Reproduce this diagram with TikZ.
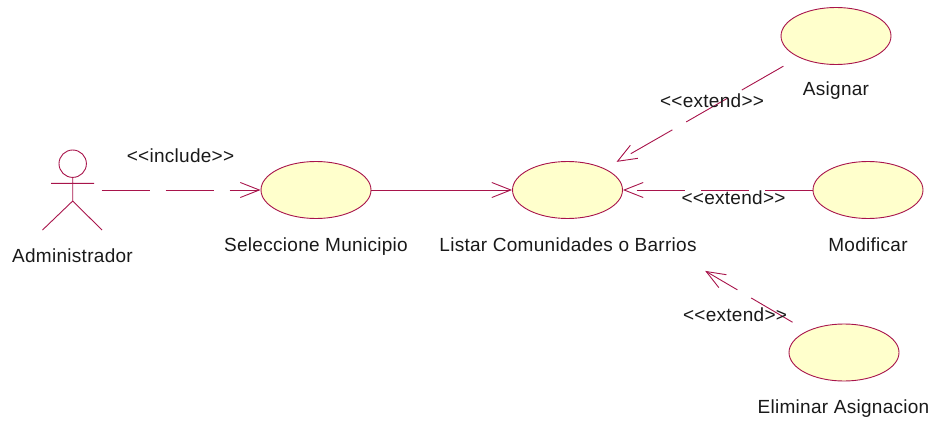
\documentclass[tikz,border=0pt]{standalone}
\usepackage{fontspec}
\setmainfont[LetterSpace=1.5]{Liberation Sans}
\usetikzlibrary{arrows.meta,shapes.geometric}
\definecolor{umlline}{RGB}{168,20,75}
\definecolor{umlfill}{RGB}{255,255,204}
\tikzset{
    usecase/.style={ellipse, draw=umlline, fill=umlfill, line width=0.9pt, inner sep=0pt, minimum width=110pt, minimum height=57pt},
    rel/.style={draw=umlline, line width=0.9pt, -{Straight Barb[length=19pt,width=15pt,line width=0.9pt]}},
    relextend/.style={rel, dash pattern=on 48pt off 16pt},
    txt/.style={anchor=base, inner sep=0pt, text=black!90, font=\fontsize{19}{21}\selectfont}
}
\begin{document}
\begin{tikzpicture}[x=1pt,y=-1pt]
    \useasboundingbox (0,0) rectangle (941,422);

    % actor
    \node[minimum width=59pt, minimum height=80pt, inner sep=0pt] (admin) at (72,190) {};
    \draw[umlline, line width=0.9pt]
    (72.7,163.7) circle (13.7pt)
    (72.7,177.4) -- (72.7,201) -- (42.5,230)
    (72.7,201) -- (102,230)
    (51,183.3) -- (94,183.3);

    % casos de uso
    \node[usecase] (municipio) at (316,190) {};
    \node[usecase] (listar) at (567.5,190) {};
    \node[usecase] (asignar) at (836,36) {};
    \node[usecase] (modificar) at (868,190) {};
    \node[usecase] (eliminar) at (844,352.5) {};

    % relaciones
    \draw[relextend] (admin) -- (municipio);
    \draw[rel] (municipio) -- (listar);
    \draw[relextend, shorten <=17.6pt, shorten >=13.5pt] (asignar) -- (listar);
    \draw[relextend] (modificar) -- (listar);
    \draw[relextend, shorten <=17pt, shorten >=117pt] (eliminar) -- (listar);

    % textos
    \node[txt] (tadmin) at (72.5,262.7) {Administrador};
    \node[txt] (tmunicipio) at (316,251) {Seleccione Municipio};
    \node[txt] (tlistar) at (568,251) {Listar Comunidades o Barrios};
    \node[txt] (tasignar) at (836,95.7) {Asignar};
    \node[txt] (tmodificar) at (868,251) {Modificar};
    \node[txt] (teliminar) at (843.5,413) {Eliminar Asignacion};
    \node[txt] (tinclude) at (180.5,162.7) {<{}<include>{}>};
    \node[txt] (textenda) at (712,107.7) {<{}<extend>{}>};
    \node[txt] (textendb) at (733.5,204) {<{}<extend>{}>};
    \node[txt] (textendc) at (735,321.7) {<{}<extend>{}>};
\end{tikzpicture}
\end{document}
